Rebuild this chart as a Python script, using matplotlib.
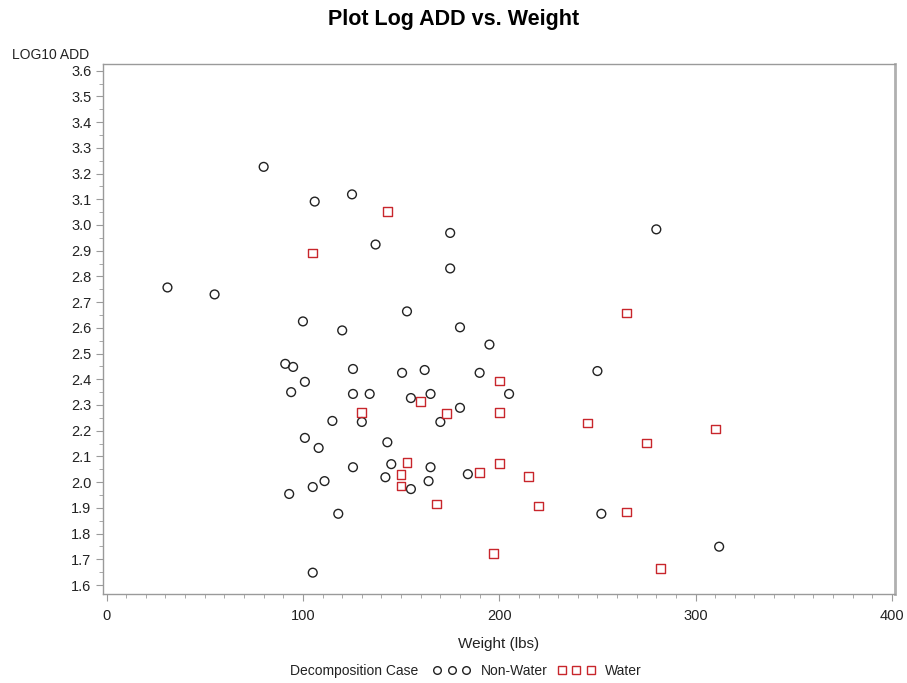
import matplotlib
matplotlib.use("Agg")
import matplotlib.pyplot as plt
from matplotlib.lines import Line2D
from matplotlib.ticker import MultipleLocator, FormatStrFormatter

# Non-water decomposition cases: weight (lbs) and log10 ADD
nonwater_weight = [80, 125, 106, 175, 137, 280, 175, 31, 55, 153, 100, 120, 180, 195,
                   91, 95, 125.5, 162, 150.5, 190, 250, 101, 94, 125.5, 134, 165, 205,
                   155, 180, 115, 130, 170, 101, 108, 143, 125.5, 145, 165, 142, 184,
                   164, 111, 105, 155, 93, 118, 252, 312, 105]
nonwater_logadd = [3.226, 3.119, 3.091, 2.969, 2.924, 2.983, 2.831, 2.757, 2.730, 2.664,
                   2.625, 2.590, 2.602, 2.535, 2.460, 2.448, 2.440, 2.436, 2.425, 2.425,
                   2.432, 2.390, 2.350, 2.343, 2.343, 2.343, 2.343, 2.327, 2.289, 2.238,
                   2.234, 2.234, 2.172, 2.133, 2.155, 2.058, 2.070, 2.058, 2.019, 2.031,
                   2.004, 2.004, 1.981, 1.973, 1.954, 1.877, 1.877, 1.749, 1.648]

# Water decomposition cases
water_weight = [143, 105, 265, 200, 160, 130, 173, 200, 245, 275, 310, 153, 200, 190,
                150, 215, 150, 168, 220, 265, 197, 282]
water_logadd = [3.051, 2.891, 2.658, 2.393, 2.315, 2.272, 2.268, 2.272, 2.230, 2.152,
                2.207, 2.077, 2.074, 2.039, 2.031, 2.023, 1.985, 1.915, 1.907, 1.884,
                1.724, 1.664]

title = "Plot Log ADD vs. Weight"
x_label = "Weight (lbs)"
y_label = "LOG10 ADD"
legend_title = "Decomposition Case"
series_names = ["Non-Water", "Water"]

RED = "#c8262c"
AXIS_GRAY = "#9a9a9a"
TEXT = "#222222"
SANS = ["Liberation Sans", "DejaVu Sans"]

fig = plt.figure(figsize=(9.07, 6.83), dpi=100)
ax = fig.add_axes([0.1132, 0.1303, 0.8732, 0.776])

ax.scatter(nonwater_weight, nonwater_logadd, s=40, marker="o",
           facecolors="none", edgecolors="#222222", linewidths=1.0, zorder=3)
ax.scatter(water_weight, water_logadd, s=40, marker="s",
           facecolors="none", edgecolors=RED, linewidths=1.0, zorder=3)

ax.set_xlim(-2.0, 401.4)
ax.set_ylim(1.565, 3.626)

ax.xaxis.set_major_locator(MultipleLocator(100))
ax.xaxis.set_minor_locator(MultipleLocator(10))
ax.yaxis.set_major_locator(MultipleLocator(0.1))
ax.yaxis.set_minor_locator(MultipleLocator(0.05))
ax.yaxis.set_major_formatter(FormatStrFormatter("%.1f"))

ax.tick_params(axis="both", which="major", length=5, width=0.8, color=AXIS_GRAY,
               labelcolor=TEXT, direction="out")
ax.tick_params(axis="both", which="minor", length=3, width=0.6, color=AXIS_GRAY,
               direction="out")
ax.tick_params(axis="x", which="major", pad=6)
ax.tick_params(axis="y", which="major", pad=3)
for lab in ax.get_xticklabels():
    lab.set_fontfamily(SANS)
    lab.set_fontstretch("condensed")
    lab.set_fontsize(10.5)
for lab in ax.get_yticklabels():
    lab.set_fontfamily(SANS)
    lab.set_fontsize(10.5)

for side, sp in ax.spines.items():
    sp.set_color(AXIS_GRAY)
    sp.set_linewidth(1.0)
ax.spines["right"].set_linewidth(2.0)
ax.spines["right"].set_color("#b0b0b0")

fig.text(0.5, 0.972, title, ha="center", va="center", fontsize=15.5,
         fontweight="bold", family=SANS, color="#000000")
fig.text(12 / 907, 1 - 55 / 683, y_label, ha="left", va="center", fontsize=10,
         family=SANS, color=TEXT)
ax.set_xlabel(x_label, fontsize=11, family=SANS, color=TEXT, labelpad=10)

# Legend row under the x-axis label
fig.text(290 / 907, 1 - 671 / 683, legend_title, ha="left", va="center",
         fontsize=10, family=SANS, color=TEXT)
handles = [
    Line2D([], [], marker="o", linestyle="none", markersize=5.5,
           markerfacecolor="none", markeredgecolor="#222222", markeredgewidth=1.0),
    Line2D([], [], marker="s", linestyle="none", markersize=5.5,
           markerfacecolor="none", markeredgecolor=RED, markeredgewidth=1.0),
]
leg = fig.legend(handles, series_names, loc="center left",
                 bbox_to_anchor=(433 / 907, 1 - 671 / 683), ncol=2, numpoints=3,
                 frameon=False, handlelength=2.7, handletextpad=0.75,
                 columnspacing=0.7, borderpad=0, borderaxespad=0,
                 prop={"family": SANS, "size": 10})
for t in leg.get_texts():
    t.set_color(TEXT)

fig.savefig("out.png", dpi=100, facecolor="white")
